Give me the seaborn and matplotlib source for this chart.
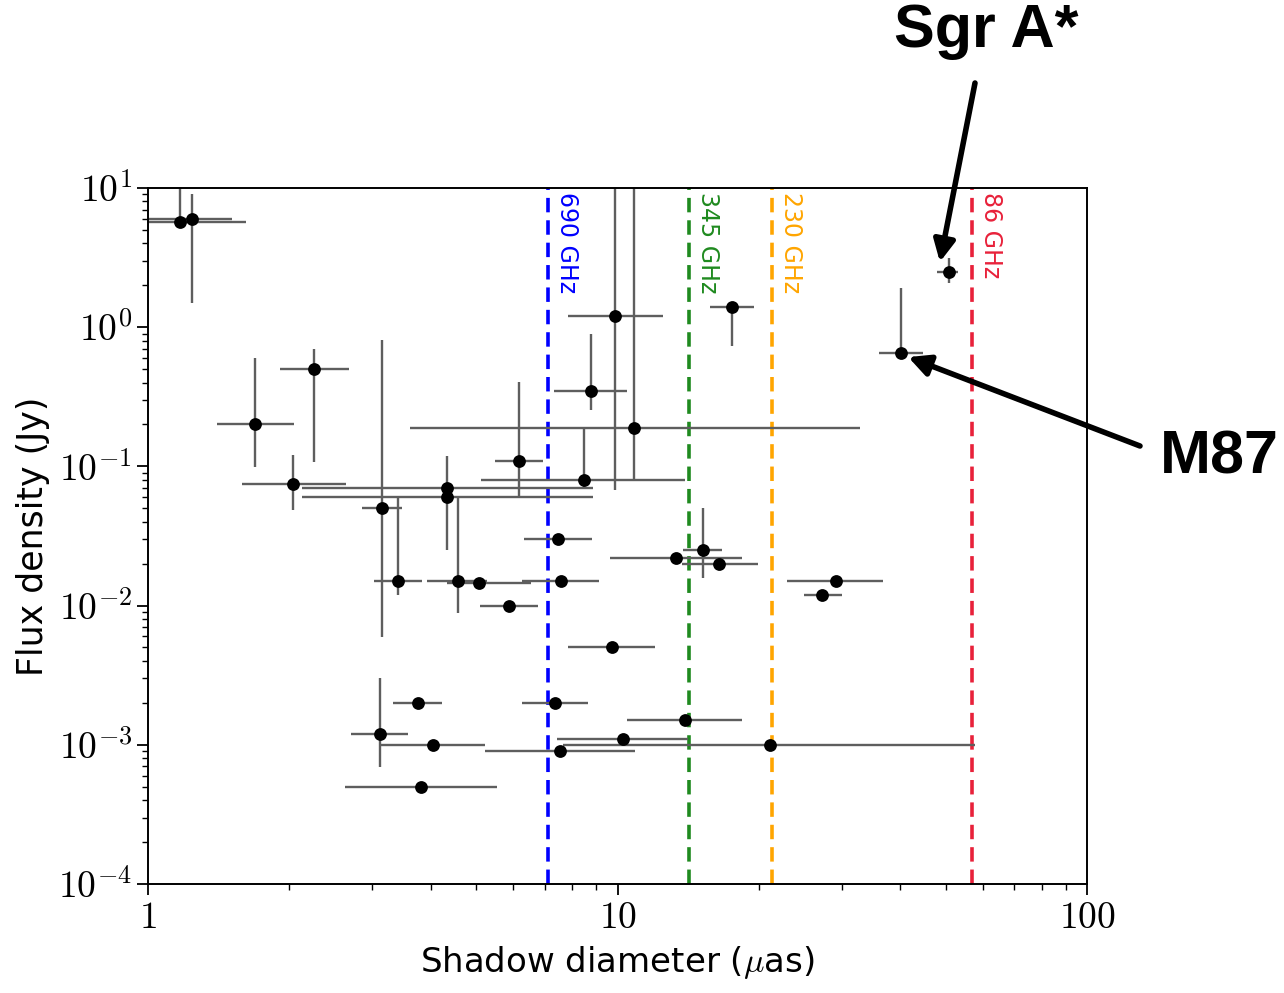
import numpy as np
import pandas as pd
import matplotlib
matplotlib.use("Agg")
import matplotlib.pyplot as plt
import seaborn as sns

# Source measurements: shadow diameter (micro-arcsec) and flux density (Jy)
diameter = [1.17, 1.24, 1.69, 2.26, 2.04, 3.15, 3.40, 4.34, 4.34, 4.58, 5.06,
            5.87, 6.17, 8.50, 8.78, 9.88, 10.86, 17.5, 7.47, 7.57, 9.72, 7.36,
            13.9, 10.26, 21.1, 7.55, 3.75, 3.12, 4.05, 3.82, 13.3, 15.2, 16.45,
            29.2, 27.3, 40.2, 50.8]
diam_lo = [0.70, 0.80, 1.40, 1.91, 1.585, 2.86, 3.03, 2.13, 2.13, 3.92, 4.33,
           5.10, 5.48, 5.12, 7.33, 7.83, 3.61, 15.7, 6.32, 6.25, 7.86, 6.25,
           10.5, 7.42, 7.67, 5.22, 3.32, 2.70, 3.12, 2.63, 9.64, 13.8, 13.7,
           23.0, 24.9, 36.1, 47.9]
diam_hi = [1.617, 1.51, 2.05, 2.68, 2.64, 3.48, 3.83, 8.87, 8.87, 5.27, 6.54,
           6.78, 6.95, 13.9, 10.5, 12.5, 32.9, 19.5, 8.81, 9.13, 12.0, 8.66,
           18.4, 14.15, 57.7, 10.9, 4.22, 3.58, 5.22, 5.53, 18.4, 16.7, 19.9,
           36.8, 30.0, 44.8, 53.2]
flux = [5.7, 6.0, 0.20, 0.50, 0.075, 0.050, 0.015, 0.070, 0.060, 0.015, 0.0145,
        0.010, 0.11, 0.080, 0.35, 1.2, 0.19, 1.4, 0.030, 0.015, 0.005, 0.002,
        0.0015, 0.0011, 0.001, 0.0009, 0.002, 0.0012, 0.001, 0.0005, 0.022,
        0.025, 0.020, 0.015, 0.012, 0.65, 2.5]
flux_lo = [5.7, 1.49, 0.099, 0.108, 0.0487, 0.0059, 0.0119, 0.070, 0.025, 0.0089,
           0.0145, 0.010, 0.059, 0.070, 0.254, 0.0676, 0.080, 0.736, 0.030, 0.015,
           0.005, 0.002, 0.0015, 0.0011, 0.001, 0.0009, 0.002, 0.00069, 0.001,
           0.0005, 0.022, 0.0157, 0.020, 0.015, 0.012, 0.60, 2.07]
flux_hi = [15.0, 9.06, 0.60, 0.70, 0.121, 0.81, 0.060, 0.119, 0.070, 0.060,
           0.0145, 0.010, 0.405, 0.188, 0.90, 15.0, 15.0, 1.5, 0.030, 0.015,
           0.005, 0.002, 0.0015, 0.0011, 0.001, 0.0009, 0.002, 0.003, 0.001,
           0.0005, 0.022, 0.050, 0.020, 0.015, 0.012, 1.90, 3.13]

# Diffraction limits for the observing frequencies
band_labels = ["690 GHz", "345 GHz", "230 GHz", "86 GHz"]
band_limits = [7.1, 14.2, 21.3, 57.0]
band_colors = ["#0000ff", "#1f8a1f", "#ffa500", "#e8213a"]

df = pd.DataFrame({"diameter": diameter, "flux": flux})

sns.set_style("white")
plt.rcParams["font.family"] = ["DejaVu Sans"]
plt.rcParams["mathtext.fontset"] = "cm"
for key in ["text.color", "axes.labelcolor", "xtick.color", "ytick.color"]:
    plt.rcParams[key] = "black"

fig = plt.figure(figsize=(12.84, 9.93), dpi=100)
ax = fig.add_axes([0.1153, 0.1098, 0.7313, 0.7009])

d = np.array(diameter)
f = np.array(flux)
xerr = np.vstack([d - np.array(diam_lo), np.array(diam_hi) - d])
yerr = np.vstack([f - np.array(flux_lo), np.array(flux_hi) - f])

ax.errorbar(d, f, xerr=xerr, yerr=yerr, fmt="none", ecolor="#5e5e5e",
            elinewidth=1.7, capsize=0, zorder=2)
sns.scatterplot(data=df, x="diameter", y="flux", ax=ax, color="black",
                s=85, edgecolor="black", linewidth=0, zorder=3)

ax.set_xscale("log")
ax.set_yscale("log")
ax.set_xlim(1, 100)
ax.set_ylim(1e-4, 10)

for lab, xv, col in zip(band_labels, band_limits, band_colors):
    ax.axvline(xv, color=col, ls=(0, (4, 2.2)), lw=2.6, zorder=1)
    ax.text(xv * 1.035, 9.3, lab, rotation=270, va="top", ha="left",
            color=col, fontsize=17)

ax.set_xticks([1, 10, 100])
ax.set_xticklabels([r"$1$", r"$10$", r"$100$"])
ax.set_yticks([1e-4, 1e-3, 1e-2, 1e-1, 1, 10])
ax.set_yticklabels([r"$10^{-4}$", r"$10^{-3}$", r"$10^{-2}$", r"$10^{-1}$",
                    r"$10^{0}$", r"$10^{1}$"])
ax.tick_params(axis="both", which="major", labelsize=27, length=8, width=1.3,
               direction="out", bottom=True, left=True, top=False, right=False)
ax.tick_params(axis="both", which="minor", length=4, width=1.0,
               direction="out", bottom=True, left=True, top=False, right=False)
ax.xaxis.set_minor_locator(matplotlib.ticker.LogLocator(base=10, subs=np.arange(2, 10)))
ax.yaxis.set_minor_locator(matplotlib.ticker.LogLocator(base=10, subs=np.arange(2, 10)))
ax.xaxis.set_minor_formatter(matplotlib.ticker.NullFormatter())
ax.yaxis.set_minor_formatter(matplotlib.ticker.NullFormatter())

for sp in ax.spines.values():
    sp.set_color("black")
    sp.set_linewidth(1.4)

ax.set_xlabel(r"Shadow diameter ($\mu$as)", fontsize=24.5, labelpad=6)
ax.set_ylabel("Flux density (Jy)", fontsize=25, labelpad=6)

# Callouts for the two best-known sources
fig.text(986 / 1284, 1 - 47 / 993, "Sgr A*", ha="center", va="baseline",
         fontsize=44, fontweight="bold", family="Liberation Sans", color="black")
fig.text(1160 / 1284, 1 - 474 / 993, "M87", ha="left", va="baseline",
         fontsize=44, fontweight="bold", family="Liberation Sans", color="black")

arrow = dict(arrowstyle="-|>", lw=4, color="black", mutation_scale=32,
             shrinkA=0, shrinkB=0)
ax.annotate("", xy=(48.6, 2.94), xytext=(975 / 1284, 1 - 83 / 993),
            textcoords="figure fraction", arrowprops=arrow, annotation_clip=False)
ax.annotate("", xy=(41.6, 0.61), xytext=(1140 / 1284, 1 - 446 / 993),
            textcoords="figure fraction", arrowprops=arrow, annotation_clip=False)

fig.savefig("out.png", dpi=100)
